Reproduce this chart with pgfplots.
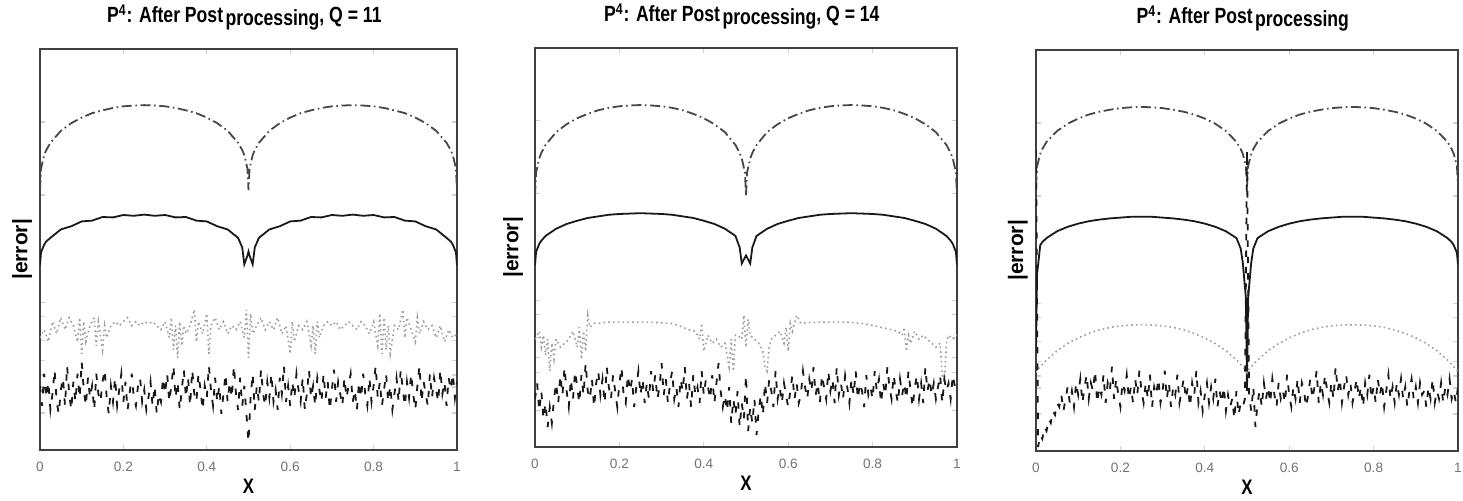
\documentclass[border=0pt]{standalone}
\usepackage{fontspec}
\setmainfont{Liberation Sans}
\newfontfamily\narrowsf{Liberation Sans}[FakeStretch=0.8]
\usepackage{pgfplots}
\usepackage{pgfplotstable}
\pgfplotsset{compat=1.18}

% smooth curves: top (dash-dot), solid, and panel-3 dotted
\pgfplotstableread{
x T1 S1 T2 S2 T3 S3 O3
0 64.8 46.1 63.0 45.6 66.0 25.0 19.5
0.0025 70.2 49.3 68.8 48.9 71.0 44.0 20.2
0.01 73.5 51.2 72.3 50.9 74.1 51.3 21.0
0.015 74.8 52.0 73.7 51.7 75.3 52.1 21.6
0.025 76.6 52.9 75.7 52.9 77.1 53.1 22.7
0.05 79.6 55.0 78.9 54.7 79.8 54.8 25.0
0.075 81.5 55.8 80.9 55.9 81.6 55.9 26.8
0.1 82.9 57.0 82.4 56.7 82.9 56.7 28.2
0.125 84.0 57.2 83.5 57.4 83.9 57.3 29.3
0.15 84.7 58.1 84.4 57.8 84.6 57.7 30.2
0.175 85.3 58.0 85.0 58.2 85.1 58.0 30.8
0.2 85.7 58.6 85.4 58.4 85.5 58.2 31.2
0.225 85.9 58.4 85.6 58.5 85.7 58.4 31.4
0.25 86.0 58.7 85.7 58.6 85.8 58.4 31.5
0.275 85.9 58.4 85.6 58.5 85.7 58.4 31.4
0.3 85.7 58.6 85.4 58.4 85.5 58.2 31.2
0.325 85.3 58.0 85.0 58.2 85.1 58.0 30.8
0.35 84.7 58.1 84.4 57.8 84.6 57.7 30.2
0.375 84.0 57.2 83.5 57.4 83.9 57.3 29.3
0.4 82.9 57.0 82.4 56.7 82.9 56.7 28.2
0.425 81.5 55.8 80.9 55.9 81.6 55.9 26.8
0.45 79.6 55.0 78.9 54.7 79.8 54.8 25.0
0.475 76.6 52.9 75.7 52.9 77.1 53.1 22.7
0.485 74.8 50.5 73.7 50.0 75.3 50.5 21.6
0.49 73.5 46.3 72.3 46.0 74.1 47.0 21.0
0.4975 70.2 48.5 68.8 47.5 71.0 38.0 20.2
0.5 64.8 49.5 63.0 48.0 66.0 15.0 19.5
0.5025 70.2 48.5 68.8 47.5 71.0 38.0 20.2
0.51 73.5 46.3 72.3 46.0 74.1 47.0 21.0
0.515 74.8 50.5 73.7 50.0 75.3 50.5 21.6
0.525 76.6 52.9 75.7 52.9 77.1 53.1 22.7
0.55 79.6 55.0 78.9 54.7 79.8 54.8 25.0
0.575 81.5 55.8 80.9 55.9 81.6 55.9 26.8
0.6 82.9 57.0 82.4 56.7 82.9 56.7 28.2
0.625 84.0 57.2 83.5 57.4 83.9 57.3 29.3
0.65 84.7 58.1 84.4 57.8 84.6 57.7 30.2
0.675 85.3 58.0 85.0 58.2 85.1 58.0 30.8
0.7 85.7 58.6 85.4 58.4 85.5 58.2 31.2
0.725 85.9 58.4 85.6 58.5 85.7 58.4 31.4
0.75 86.0 58.7 85.7 58.6 85.8 58.4 31.5
0.775 85.9 58.4 85.6 58.5 85.7 58.4 31.4
0.8 85.7 58.6 85.4 58.4 85.5 58.2 31.2
0.825 85.3 58.0 85.0 58.2 85.1 58.0 30.8
0.85 84.7 58.1 84.4 57.8 84.6 57.7 30.2
0.875 84.0 57.2 83.5 57.4 83.9 57.3 29.3
0.9 82.9 57.0 82.4 56.7 82.9 56.7 28.2
0.925 81.5 55.8 80.9 55.9 81.6 55.9 26.8
0.95 79.6 55.0 78.9 54.7 79.8 54.8 25.0
0.975 76.6 52.9 75.7 52.9 77.1 53.1 22.7
0.985 74.8 52.0 73.7 51.7 75.3 52.1 21.6
0.99 73.5 51.2 72.3 50.9 74.1 51.3 21.0
0.9975 70.2 49.3 68.8 48.9 71.0 49.4 20.2
1 64.8 46.1 63.0 45.6 66.0 46.4 19.5
}\arches

% dashed noisy error, one row every 0.005 in x
\pgfplotstableread{
d1 d2 d3
16 12 75
11 16 1
19 9 4
13 14 3
17 7 6
10 11 5
14 5 8
20 10 7
12 6 10
9 12 9
15 16 12
18 11 11
11 18 14
21 13 10
14 20 13
10 14 16
17 10 12
12 17 15
19 12 11
13 19 17
22 15 14
15 11 18
11 18 12
18 13 16
13 21 19
16 14 13
10 12 17
19 17 15
14 10 20
12 16 12
17 19 16
20 13 14
13 17 19
9 11 12
16 20 17
12 15 15
18 12 21
11 18 13
15 14 18
19 10 14
12 16 11
17 20 17
10 13 15
14 11 19
19 18 13
13 14 16
11 17 12
16 10 18
18 15 14
12 19 20
15 13 15
10 17 12
13 11 17
17 16 13
11 12 19
16 19 11
9 14 16
14 18 14
12 12 18
18 15 12
14 21 15
19 13 20
12 17 13
16 11 17
21 16 11
13 19 16
17 12 14
10 15 19
15 10 12
20 17 15
13 14 18
18 20 13
11 12 16
20 16 11
14 10 17
12 18 14
19 13 20
15 15 12
10 11 15
16 19 10
13 13 14
21 17 17
15 15 12
11 12 16
18 18 13
12 11 18
16 16 11
9 21 15
14 14 12
19 10 16
12 13 10
17 9 14
13 15 11
21 6 13
14 12 8
10 8 15
18 14 9
11 5 12
16 11 11
9 7 13
2 18 75
13 4 14
19 10 10
10 6 16
16 12 6
12 3 12
20 9 15
14 13 11
11 8 17
17 16 13
13 11 16
19 17 12
12 14 18
15 10 14
10 19 11
18 12 17
14 15 13
21 11 15
12 16 12
16 13 19
11 10 14
17 14 11
13 18 16
19 12 13
15 16 18
12 11 12
18 13 17
10 19 15
14 15 11
20 12 14
13 17 18
16 14 13
11 20 16
18 13 20
15 16 12
12 11 17
19 18 14
13 15 19
17 12 15
10 19 12
15 14 17
20 17 13
12 11 21
17 20 15
14 13 18
11 16 12
18 12 16
13 18 19
16 15 14
19 11 17
12 17 12
15 13 15
10 19 18
17 12 13
13 16 16
19 14 11
14 10 17
11 18 14
18 13 19
12 15 13
16 12 16
21 19 12
13 14 18
17 17 14
11 11 17
15 16 11
19 13 15
12 20 19
16 15 13
10 12 16
14 18 12
18 14 17
12 11 14
20 17 18
15 13 13
11 16 16
17 12 11
13 19 15
19 14 18
14 10 13
10 15 16
16 18 12
21 12 17
12 16 14
17 11 15
14 20 11
11 14 16
19 17 13
13 13 18
18 16 12
15 12 15
12 15 13
20 18 17
14 11 12
17 17 16
11 14 14
18 16 18
15 12 13
19 18 15
13 15 12
17 13 16
}\noise

\pgfplotsset{
  panel/.style={
    scale only axis,
    xmin=0, xmax=1, ymin=0, ymax=100,
    xtick={0,0.2,0.4,0.6,0.8,1},
    xticklabels={0,0.2,0.4,0.6,0.8,1},
    ytick={9.2,15.7,18.7,22.4,27.4,33.2,36.7,63.6,81.8},
    yticklabels={},
    tick align=inside,
    major tick length=2.5pt,
    tick style={black!18, line width=0.6pt},
    axis line style={black!75, line width=0.6pt},
    xticklabel style={font=\fontsize{6.8}{7}\selectfont, text=black!55, yshift=-2.5pt},
    xlabel={X},
    xlabel style={font=\narrowsf\bfseries\fontsize{10.5}{11}\selectfont,
      at={(axis description cs:0.5,0)}, anchor=center, yshift=-18pt},
    ylabel={|error|},
    ylabel style={font=\bfseries\fontsize{10.5}{11}\selectfont,
      at={(axis description cs:-0.043,0.5)}, anchor=center},
    title style={font=\narrowsf\bfseries\fontsize{11}{12}\selectfont,
      at={(axis description cs:0.49,1)}, anchor=base, yshift=7pt},
  },
  topcurve/.style={black!72, line width=0.9pt,
    dash pattern=on 5pt off 1.8pt on 0.8pt off 1.8pt},
  solidcurve/.style={black!90, line width=0.9pt},
  dotcurve/.style={black!38, line width=0.8pt, dash pattern=on 0.8pt off 1.6pt},
  dashcurve/.style={black!90, line width=0.9pt, dash pattern=on 3.2pt off 5pt},
}

\newcommand{\ttl}[1]{P\textsuperscript{4}: After Post\hspace{1.2pt}\raisebox{-1.2pt}{processing}#1}

\begin{document}
\begin{tikzpicture}
\path[use as bounding box] (0,0) rectangle (731.5pt,250.5pt);

% ---- panel 1: Q = 11
\begin{axis}[panel, at={(20pt,25.5pt)}, anchor=south west,
  width=208.5pt, height=200.5pt, title={\ttl{, Q = 11}}]
\addplot[topcurve] table[x=x, y=T1] {\arches};
\addplot[solidcurve] table[x=x, y=S1] {\arches};
\addplot[dotcurve] coordinates {
(0.00,28) (0.01,30) (0.02,27) (0.03,32) (0.04,29) (0.05,33) (0.06,30)
(0.07,33) (0.08,31) (0.09,27) (0.095,33) (0.10,24) (0.105,32) (0.11,27)
(0.12,31) (0.13,33) (0.135,26) (0.14,32) (0.15,25) (0.155,31) (0.16,28)
(0.17,31) (0.18,32) (0.19,31) (0.20,32) (0.21,33) (0.22,31) (0.23,32)
(0.24,31) (0.25,32) (0.26,31.5) (0.27,32) (0.28,31) (0.29,30) (0.30,32)
(0.31,28) (0.315,33) (0.32,25) (0.325,31) (0.33,23) (0.335,32) (0.34,26)
(0.345,31) (0.35,29) (0.36,31) (0.37,35) (0.375,27) (0.38,32) (0.39,29)
(0.40,34) (0.405,24) (0.41,31) (0.42,33) (0.43,30) (0.44,32) (0.45,29)
(0.46,31) (0.47,30) (0.48,32) (0.49,28) (0.495,35) (0.50,23) (0.505,34)
(0.51,29) (0.52,31) (0.53,33) (0.54,30) (0.55,32) (0.56,30) (0.57,33)
(0.58,29) (0.59,31) (0.60,24) (0.605,32) (0.61,27) (0.62,31) (0.63,30)
(0.64,32) (0.65,26) (0.655,31) (0.66,24) (0.665,32) (0.67,28) (0.68,31)
(0.69,32) (0.70,31) (0.71,32) (0.72,30) (0.73,31) (0.74,32) (0.75,31)
(0.76,30) (0.77,32) (0.78,31) (0.79,29) (0.80,32) (0.81,26) (0.815,34)
(0.82,24) (0.825,33) (0.83,25) (0.835,31) (0.84,24) (0.85,31) (0.86,30)
(0.87,35) (0.875,28) (0.88,33) (0.89,30) (0.90,27) (0.905,33) (0.91,29)
(0.92,32) (0.93,30) (0.94,31) (0.95,28) (0.96,31) (0.97,27) (0.98,30)
(0.99,28) (1.00,29)
};
\addplot[dashcurve] table[x expr=\coordindex/200, y=d1] {\noise};
\end{axis}

% ---- panel 2: Q = 14
\begin{axis}[panel, at={(267.5pt,27pt)}, anchor=south west,
  width=211pt, height=199.5pt, title={\ttl{, Q = 14}},
  ylabel style={at={(axis description cs:-0.052,0.5)}}]
\addplot[topcurve] table[x=x, y=T2] {\arches};
\addplot[solidcurve] table[x=x, y=S2] {\arches};
\addplot[dotcurve] coordinates {
(0.00,27) (0.01,29) (0.015,25) (0.02,28) (0.025,23) (0.03,27) (0.035,19)
(0.04,26) (0.045,22) (0.05,27) (0.06,25) (0.07,26) (0.08,27) (0.09,29)
(0.10,25) (0.105,30) (0.11,22) (0.115,29) (0.12,24) (0.125,33) (0.13,30)
(0.14,31) (0.15,31) (0.17,31.3) (0.20,31.3) (0.23,31.3) (0.26,31.3)
(0.29,31.2) (0.32,31) (0.34,30.5) (0.36,29.5) (0.38,29) (0.39,27)
(0.395,31) (0.40,24) (0.41,28) (0.42,26) (0.43,27) (0.44,25) (0.45,26)
(0.46,20) (0.465,27) (0.47,19) (0.475,28) (0.48,28) (0.49,27) (0.495,33)
(0.50,25) (0.505,32) (0.51,28) (0.52,27) (0.53,26) (0.54,24) (0.545,20)
(0.55,19) (0.555,25) (0.56,27) (0.57,28) (0.58,29) (0.59,26) (0.595,30)
(0.60,24) (0.605,31) (0.61,29) (0.62,33) (0.63,31) (0.65,31.2) (0.68,31.3)
(0.71,31.3) (0.74,31.3) (0.77,31) (0.80,30.5) (0.82,30) (0.84,29.5)
(0.86,29) (0.87,28) (0.875,30) (0.88,24) (0.885,28) (0.89,26) (0.90,29)
(0.91,27) (0.92,28) (0.93,27) (0.94,26) (0.95,25) (0.96,26) (0.965,18)
(0.97,16) (0.975,26) (0.98,28) (0.99,27) (1.00,28)
};
\addplot[dashcurve] table[x expr=\coordindex/200, y=d2] {\noise};
\end{axis}

% ---- panel 3
\begin{axis}[panel, at={(518pt,25pt)}, anchor=south west,
  width=211pt, height=200.5pt, title={\ttl{}}]
\addplot[topcurve] table[x=x, y=T3] {\arches};
\addplot[solidcurve] table[x=x, y=S3] {\arches};
\addplot[dotcurve] table[x=x, y=O3] {\arches};
\addplot[dashcurve] table[x expr=\coordindex/200, y=d3] {\noise};
\end{axis}
\end{tikzpicture}
\end{document}
